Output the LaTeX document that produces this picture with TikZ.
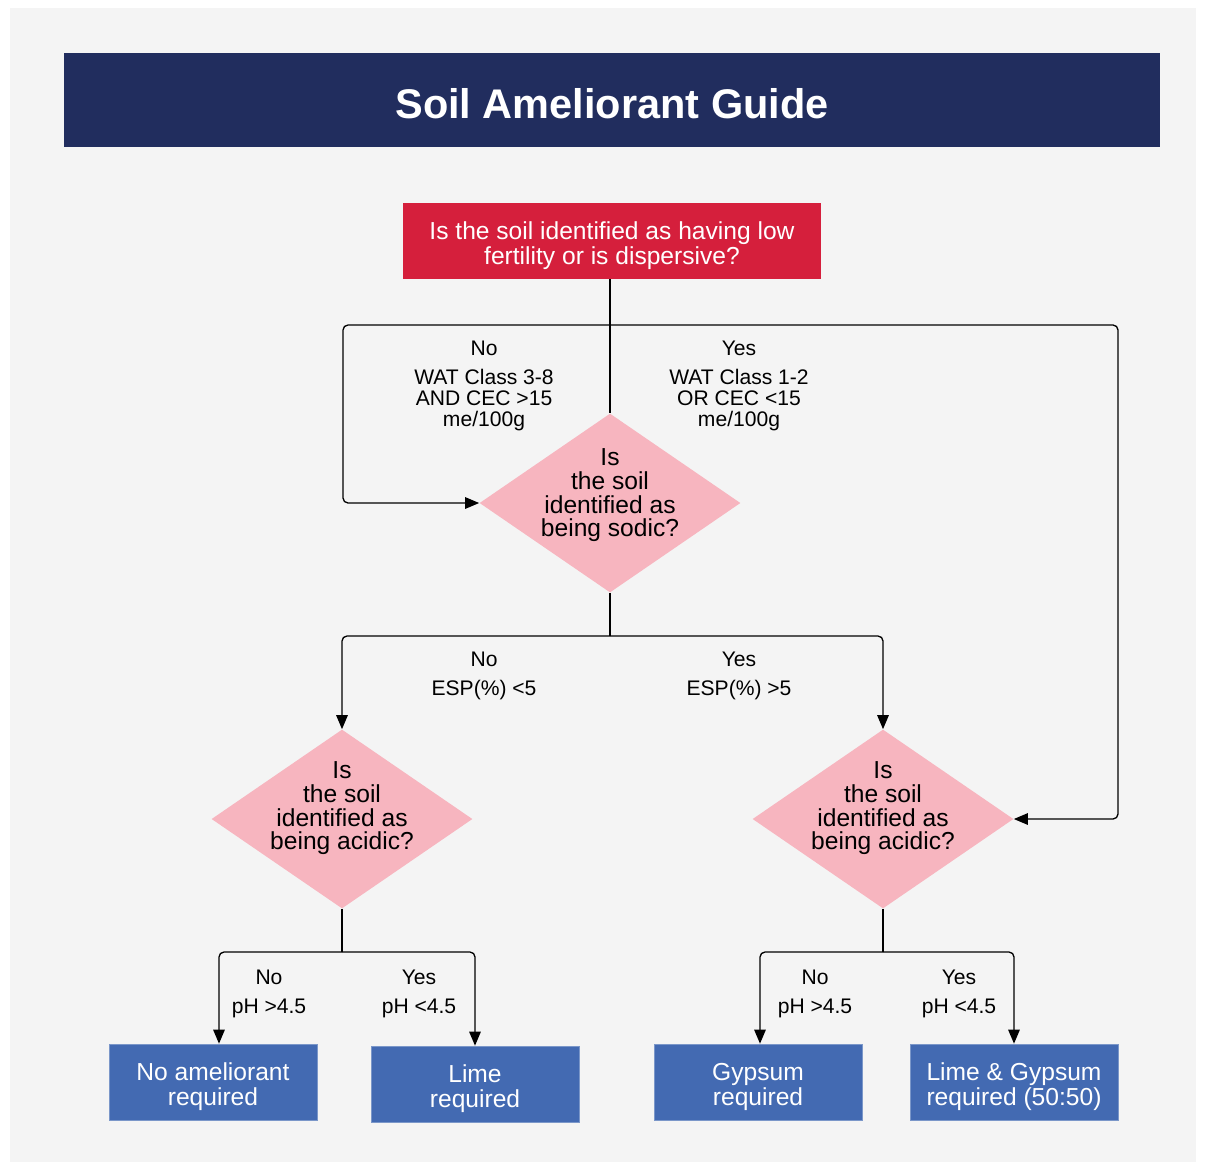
\documentclass[tikz,border=0pt]{standalone}
\usepackage{fontspec}
\setmainfont{Liberation Sans}
\usepackage{tikz}
\usetikzlibrary{shapes.geometric,arrows.meta}
\definecolor{navy}{HTML}{212D5E}
\definecolor{crimson}{HTML}{D51F3C}
\definecolor{rose}{HTML}{F7B5BF}
\definecolor{steel}{HTML}{436AB2}
\definecolor{paper}{HTML}{F4F4F4}

\begin{document}
\begin{tikzpicture}[x=0.02cm,y=-0.02cm,
  titlebar/.style={rectangle,fill=navy,text=white,minimum width=21.92cm,minimum height=1.88cm,
    font=\fontsize{23.6}{24}\selectfont\bfseries,execute at begin node=\rule{0pt}{21.6pt}},
  question/.style={rectangle,fill=crimson,text=white,minimum width=8.36cm,minimum height=1.52cm,
    align=center,font=\fontsize{14}{14.2}\selectfont,execute at begin node=\rule{0pt}{30pt}},
  decision/.style={diamond,fill=rose,minimum width=5.22cm,minimum height=3.58cm,inner sep=0pt},
  qtext/.style={align=center,anchor=north,inner sep=0pt,font=\fontsize{14}{13.6}\selectfont},
  answer/.style={rectangle,fill=steel,draw=steel!70!white,line width=0.4pt,text=white,
    minimum width=4.16cm,minimum height=1.52cm,align=center,font=\fontsize{14}{14.2}\selectfont,
    execute at begin node=\rule{0pt}{29.2pt}},
  branch/.style={align=center,anchor=north,inner sep=0pt,font=\fontsize{12}{12}\selectfont},
  wire/.style={line width=0.75pt,rounded corners=0.1cm},
  flow/.style={wire,-{Triangle[length=0.28cm,width=0.23cm]}}]
  \useasboundingbox (0,0) rectangle (1206,1164);
  \fill[white] (0,0) rectangle (1206,1164);
  \fill[paper] (10,8) rectangle (1196,1162);
  % boxes
  \node[titlebar] (title) at (612,100) {Soil Ameliorant Guide};
  \node[question] (ask) at (612,241) {Is the soil identified as having low\\fertility or is dispersive?};
  \node[decision] (sodic) at (610,503) {};
  \node[qtext] (sodictext) at (610,448) {Is\\the soil\\identified as\\being sodic?};
  \node[decision] (acidL) at (342,819) {};
  \node[qtext] (acidLtext) at (342,761) {Is\\the soil\\identified as\\being acidic?};
  \node[decision] (acidR) at (883,819) {};
  \node[qtext] (acidRtext) at (883,761) {Is\\the soil\\identified as\\being acidic?};
  \node[answer] (none) at (213,1082) {No ameliorant\\required};
  \node[answer] (lime) at (475,1084) {Lime\\required};
  \node[answer] (gyp) at (758,1082) {Gypsum\\required};
  \node[answer] (mix) at (1014,1082) {Lime \& Gypsum\\required (50:50)};
  % forks
  \path[coordinate] (610,325) coordinate (fork1)
                    (610,636) coordinate (fork2)
                    (342,952) coordinate (fork3)
                    (883,952) coordinate (fork4);
  % connectors
  \draw[wire] (sodic.north |- ask.south) -- (sodic.north);
  \draw[flow] (fork1) -- (343,325) |- (sodic.west);
  \draw[flow] (fork1) -- (1118,325) |- (acidR.east);
  \draw[wire] (sodic.south) -- (fork2);
  \draw[flow] (fork2) -| (acidL.north);
  \draw[flow] (fork2) -| (acidR.north);
  \draw[wire] (acidL.south) -- (fork3);
  \draw[flow] (fork3) -| ([xshift=0.12cm]none.north);
  \draw[flow] (fork3) -| (lime.north);
  \draw[wire] (acidR.south) -- (fork4);
  \draw[flow] (fork4) -| ([xshift=0.04cm]gyp.north);
  \draw[flow] (fork4) -| (mix.north);
  % labels
  \node[branch] (noWAT) at (484,341) {No\\[4.4pt]WAT Class 3-8\\AND CEC >15\\me/100g};
  \node[branch] (yesWAT) at (739,341) {Yes\\[4.4pt]WAT Class 1-2\\OR CEC <15\\me/100g};
  \node[branch] (noESP) at (484,652) {No\\[4.4pt]ESP(\%) <5};
  \node[branch] (yesESP) at (739,652) {Yes\\[4.4pt]ESP(\%) >5};
  \node[branch] (noPHL) at (269,970) {No\\[4.4pt]pH >4.5};
  \node[branch] (yesPHL) at (419,970) {Yes\\[4.4pt]pH <4.5};
  \node[branch] (noPHR) at (815,970) {No\\[4.4pt]pH >4.5};
  \node[branch] (yesPHR) at (959,970) {Yes\\[4.4pt]pH <4.5};
\end{tikzpicture}
\end{document}
